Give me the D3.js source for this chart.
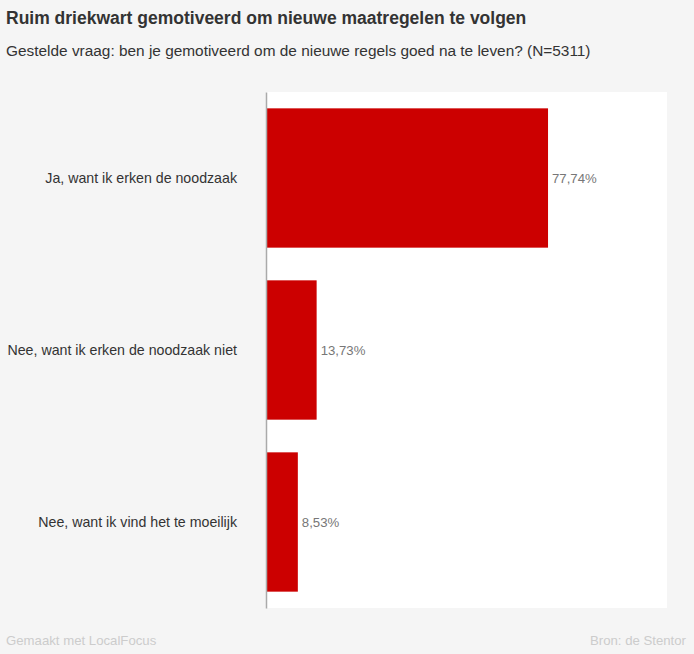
<!DOCTYPE html>
<html><head><meta charset="utf-8">
<script src="https://cdn.jsdelivr.net/npm/d3@7"></script>
<style>
html,body{margin:0;padding:0;background:#f5f5f5;}
svg{display:block;font-family:"Liberation Sans",Arial,sans-serif;}
</style></head>
<body>
<svg id="c" width="694" height="654"></svg>
<script>
const categories = ["Ja, want ik erken de noodzaak", "Nee, want ik erken de noodzaak niet", "Nee, want ik vind het te moeilijk"];
const values = [77.74, 13.73, 8.53];
const valueLabels = ["77,74%", "13,73%", "8,53%"];
const title = "Ruim driekwart gemotiveerd om nieuwe maatregelen te volgen";
const subtitle = "Gestelde vraag: ben je gemotiveerd om de nieuwe regels goed na te leven? (N=5311)";
const footerLeft = "Gemaakt met LocalFocus";
const footerRight = "Bron: de Stentor";

const svg = d3.select("#c");
svg.append("rect").attr("width",694).attr("height",654).attr("fill","#f5f5f5");

const plot = {left:266, right:667, top:92, bottom:608};
svg.append("rect").attr("x",plot.left).attr("y",plot.top)
  .attr("width",plot.right-plot.left).attr("height",plot.bottom-plot.top).attr("fill","#fff");

const x = d3.scaleLinear().domain([0,100]).range([267, 628.5]);
const y = d3.scaleBand().domain(categories).range([plot.top, plot.bottom]).paddingInner(0.19).paddingOuter(0.095);

svg.selectAll("rect.bar").data(values).join("rect").attr("class","bar")
  .attr("x", x(0)).attr("y",(d,i)=>y(categories[i]))
  .attr("width", d=>x(d)-x(0)).attr("height", y.bandwidth()).attr("fill","#cc0000");

// axis
const yAxis = d3.axisLeft(y).tickSize(0).tickPadding(29);
const ga = svg.append("g").attr("transform",`translate(${plot.left},0)`).call(yAxis);
ga.select(".domain").attr("stroke","#aaa").attr("stroke-width",1.5);
ga.selectAll("text").attr("font-size",14.2).attr("fill","#333").attr("font-family","Liberation Sans, Arial, sans-serif");

svg.selectAll("text.val").data(values).join("text").attr("class","val")
  .attr("x", d=>x(d)+4).attr("y",(d,i)=>y(categories[i])+y.bandwidth()/2)
  .attr("dy","0.35em").attr("font-size",13.2).attr("fill","#777").text((d,i)=>valueLabels[i]);

svg.append("text").attr("x",6).attr("y",24).attr("font-size",17.5).attr("font-weight","bold").attr("fill","#333").text(title);
svg.append("text").attr("x",6).attr("y",56).attr("font-size",15.4).attr("fill","#333").text(subtitle);
svg.append("text").attr("x",6).attr("y",645).attr("font-size",13.2).attr("fill","#ccc").text(footerLeft);
svg.append("text").attr("x",686).attr("y",645).attr("text-anchor","end").attr("font-size",13.2).attr("fill","#ccc").text(footerRight);
</script>
</body></html>
